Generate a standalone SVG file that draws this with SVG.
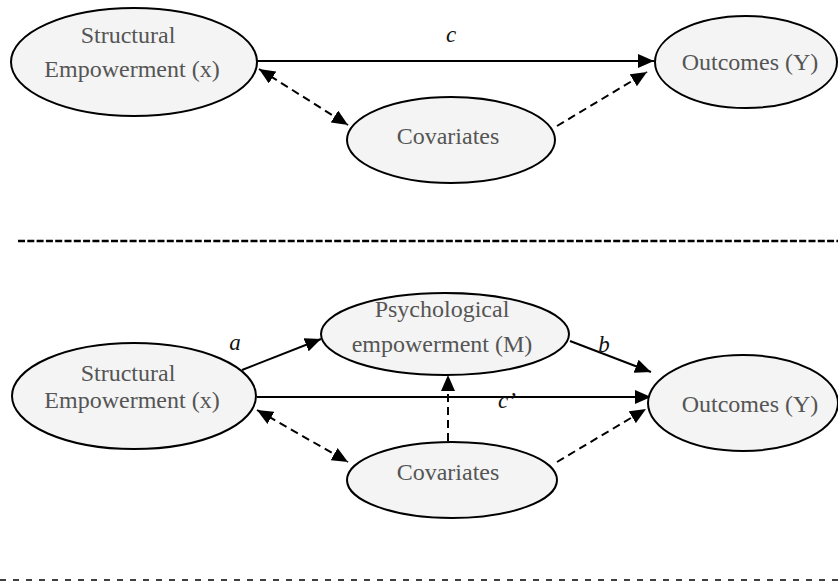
<svg xmlns="http://www.w3.org/2000/svg" width="838" height="582" viewBox="0 0 838 582">
<style>
.node ellipse{fill:#f4f4f4;stroke:#000;stroke-width:2}
.node text{font-family:"Liberation Serif","Times New Roman",serif;font-size:24px;fill:#555;text-anchor:middle}
.lbl{font-family:"Liberation Serif","Times New Roman",serif;font-size:23px;font-style:italic;fill:#111;text-anchor:middle}
.e{stroke:#000;stroke-width:2;fill:none}
.d{stroke-dasharray:8 5}
</style>
<defs>
<marker id="ah" viewBox="0 0 16 14" refX="16" refY="7" markerWidth="16" markerHeight="14" markerUnits="userSpaceOnUse" orient="auto-start-reverse">
<path d="M0,0 L16,7 L0,14 z" fill="#000"/>
</marker>
</defs>
<g id="connectors">
<line class="e" x1="257" y1="61" x2="654" y2="61" marker-end="url(#ah)"/>
<line class="e d" x1="259" y1="69" x2="348" y2="125" marker-start="url(#ah)" marker-end="url(#ah)"/>
<line class="e d" x1="557" y1="126" x2="647" y2="72" marker-end="url(#ah)"/>
<line class="e" x1="242" y1="370" x2="321" y2="339" marker-end="url(#ah)"/>
<line class="e" x1="570" y1="341" x2="651" y2="372" marker-end="url(#ah)"/>
<line class="e" x1="257" y1="397" x2="651" y2="397" marker-end="url(#ah)"/>
<line class="e d" x1="448" y1="441" x2="448" y2="375" marker-end="url(#ah)"/>
<line class="e d" x1="257" y1="410" x2="348" y2="462" marker-start="url(#ah)" marker-end="url(#ah)"/>
<line class="e d" x1="557" y1="462" x2="646" y2="409" marker-end="url(#ah)"/>
<text class="lbl" x="451" y="42">c</text>
<text class="lbl" x="235" y="350">a</text>
<text class="lbl" x="604" y="352">b</text>
<text class="lbl" x="507" y="408">c’</text>
</g>
<g id="separators">
<line x1="18" y1="241" x2="838" y2="241" stroke="#000" stroke-width="2.5" stroke-dasharray="7 2.3"/>
<line x1="0" y1="580" x2="838" y2="580" stroke="#000" stroke-width="1.6" stroke-dasharray="6 7"/>
</g>
<g id="n-struct-top" class="node">
<ellipse cx="134" cy="62" rx="123" ry="54"/>
<text x="128" y="43">Structural</text>
<text x="132" y="77">Empowerment (x)</text>
</g>
<g id="n-outcomes-top" class="node">
<ellipse cx="746" cy="62" rx="91" ry="46"/>
<text x="750" y="70">Outcomes (Y)</text>
</g>
<g id="n-cov-top" class="node">
<ellipse cx="451" cy="140" rx="104" ry="43"/>
<text x="448" y="144">Covariates</text>
</g>
<g id="n-psych" class="node">
<ellipse cx="445" cy="334" rx="124" ry="41"/>
<text x="442" y="317">Psychological</text>
<text x="442" y="352">empowerment (M)</text>
</g>
<g id="n-struct-bot" class="node">
<ellipse cx="134" cy="396" rx="122" ry="53"/>
<text x="128" y="381">Structural</text>
<text x="132" y="408">Empowerment (x)</text>
</g>
<g id="n-outcomes-bot" class="node">
<ellipse cx="743" cy="403" rx="95" ry="48"/>
<text x="750" y="412">Outcomes (Y)</text>
</g>
<g id="n-cov-bot" class="node">
<ellipse cx="452" cy="480" rx="105" ry="38"/>
<text x="448" y="480">Covariates</text>
</g>
</svg>
